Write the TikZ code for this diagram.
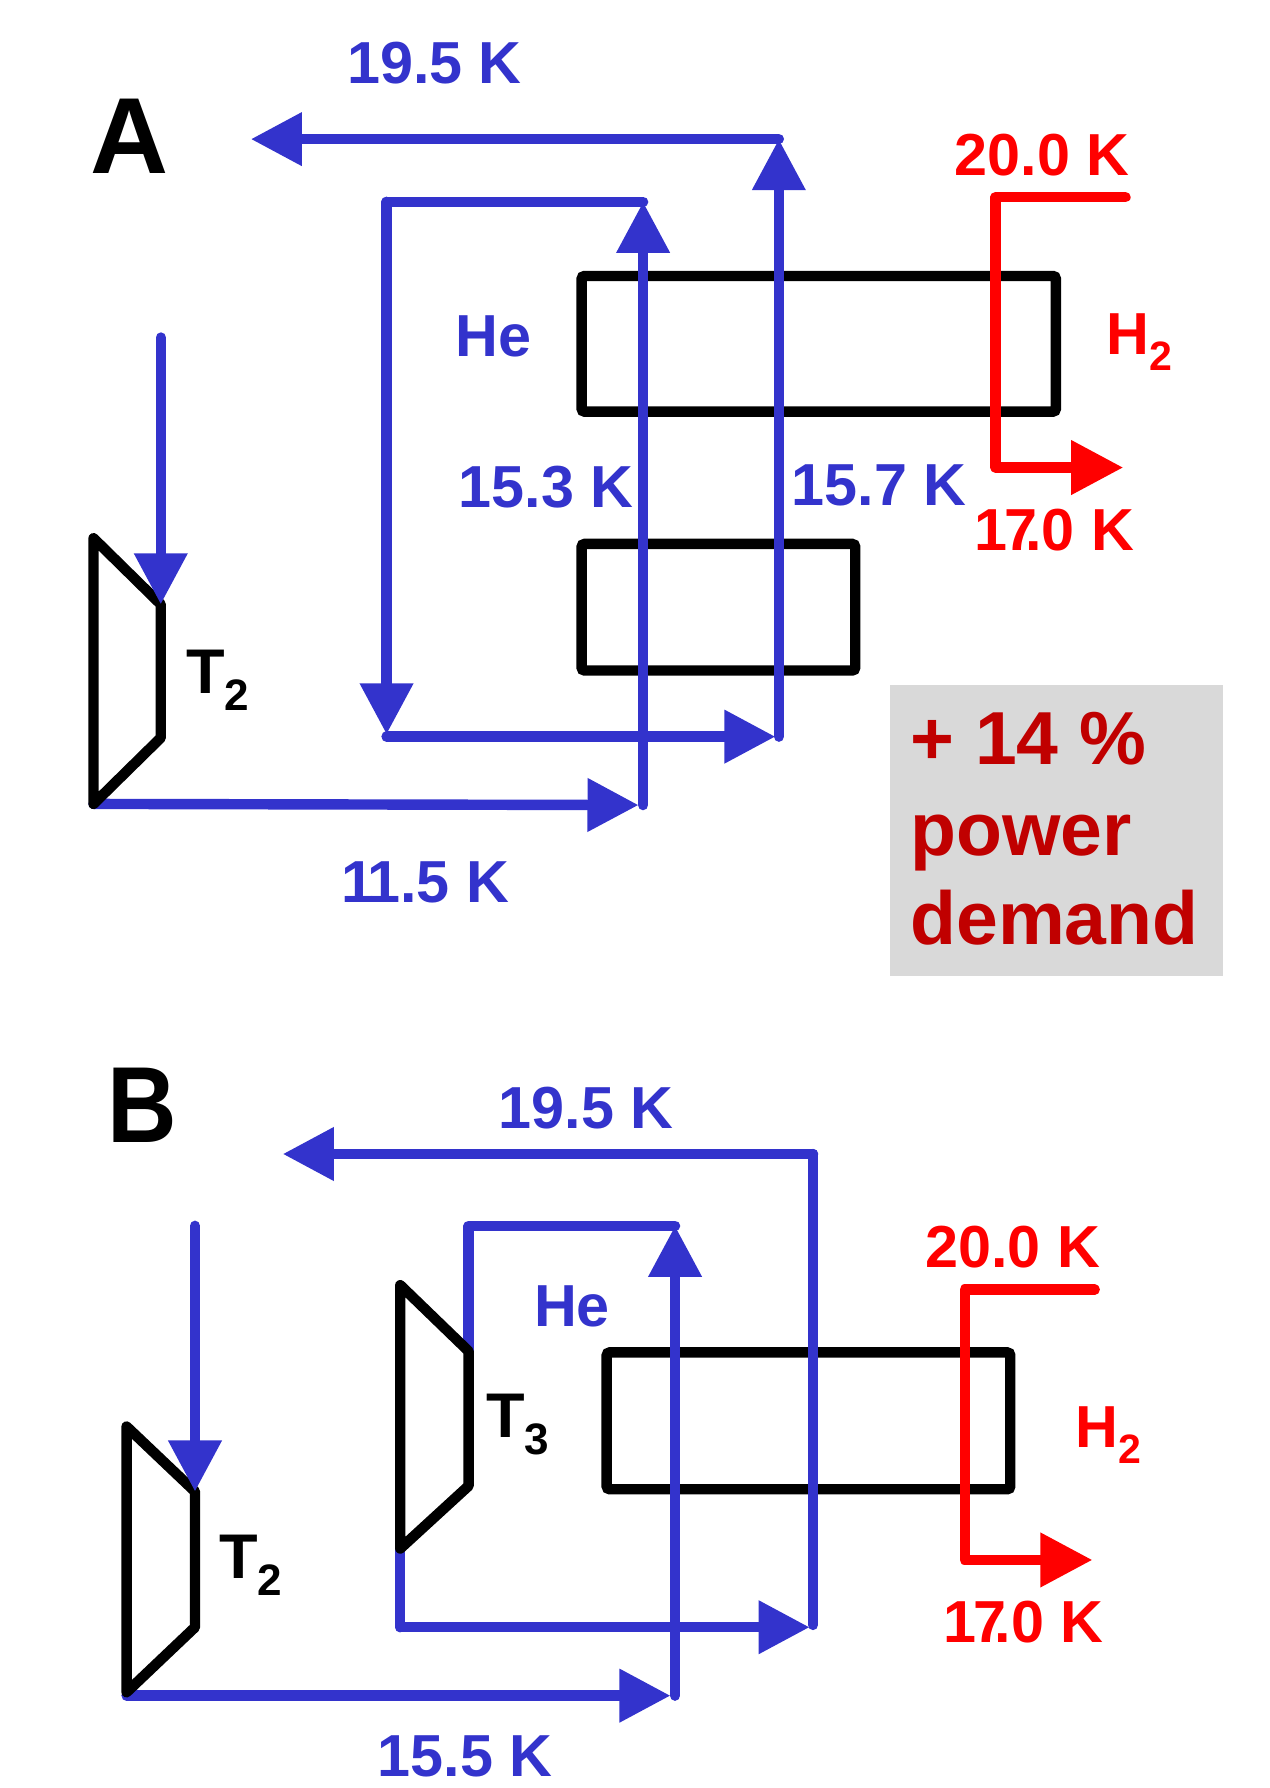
\documentclass[tikz,border=0pt]{standalone}
\usepackage{fontspec}
\setmainfont{Liberation Sans}
\usetikzlibrary{arrows.meta}
\definecolor{heblue}{RGB}{51,51,204}
\definecolor{hred}{RGB}{255,0,0}
\definecolor{demandred}{RGB}{192,0,0}
\definecolor{demandgray}{RGB}{217,217,217}
\newcommand{\lowsub}[1]{\raisebox{-8pt}{\fontsize{20.5}{20.5}\selectfont #1}}
\newcommand{\turbsub}[1]{\raisebox{-8.5pt}{\fontsize{22}{22}\selectfont #1}}

\begin{document}
\begin{tikzpicture}[
    x=0.02cm, y=-0.02cm,
    hx/.style={rectangle, rounded corners=1.5pt, draw=black, line width=5.2pt, inner sep=0pt},
    turbine/.style={draw=black, line width=5.2pt, line join=round, line cap=round},
    line/.style={draw=heblue, line width=5.2pt, line cap=round, line join=round},
    arrow/.style={line, -{Triangle[length=25.5pt,width=25.5pt]}},
    redline/.style={draw=hred, line width=5.2pt, line cap=round, line join=round},
    redarrow/.style={redline, -{Triangle[length=26pt,width=26pt]}},
    label/.style={anchor=base west, inner sep=0pt, yshift=0.3pt, font=\bfseries\fontsize{29.6}{29.6}\selectfont},
    helabel/.style={label, text=heblue},
    hlabel/.style={label, text=hred},
    tlabel/.style={label, text=black, font=\bfseries\fontsize{31.5}{31.5}\selectfont},
    panel/.style={anchor=base west, inner sep=0pt, font=\bfseries\fontsize{54}{54}\selectfont},
    demand/.style={anchor=base west, inner sep=0pt, text=demandred, font=\bfseries\fontsize{37.5}{37.5}\selectfont}
]
\useasboundingbox (0,0) rectangle (1113,1568);

% Panel A: exchangers
\node[hx, minimum width=8.32cm, minimum height=2.38cm] (hxa1) at (718,301.5) {};
\node[hx, minimum width=4.8cm, minimum height=2.22cm] (hxa2) at (630,532.5) {};
\node[rectangle, fill=demandgray, anchor=north west, inner sep=0pt,
      minimum width=5.84cm, minimum height=5.12cm] (demandbox) at (780,600) {};

% Panel A: points
\coordinate (ain) at (141,296);
\coordinate (ainend) at (141,530);
\coordinate (atl) at (82,472);
\coordinate (atm) at (141,530);
\coordinate (atb) at (141,647);
\coordinate (abl) at (82,705);
\coordinate (abr) at (564,706);
\coordinate (abrtip) at (560,706);
\coordinate (acold) at (564,177);
\coordinate (amid) at (339,177);
\coordinate (amidend) at (339,644);
\coordinate (alow) at (339,646);
\coordinate (alowtip) at (680,646);
\coordinate (aret) at (683,646);
\coordinate (atop) at (683,122);
\coordinate (aout) at (220,122);
\coordinate (ar1) at (987,173);
\coordinate (ar2) at (873,173);
\coordinate (ar3) at (873,410);
\coordinate (ar4) at (985,410);

% Panel A: helium loop
\draw[arrow] (abl) -- (abrtip);
\draw[arrow] (abr) -- (acold);
\draw[line] (acold) -- (amid);
\draw[arrow] (amid) -- (amidend);
\draw[arrow] (alow) -- (alowtip);
\draw[arrow] (aret) -- (atop);
\draw[arrow] (atop) -- (aout);
\draw[turbine] (atl) -- (atm) -- (atb) -- (abl) -- cycle;
\draw[arrow] (ain) -- (ainend);

% Panel A: hydrogen
\draw[redarrow] (ar1) -- (ar2) -- (ar3) -- (ar4);

% Panel A: labels
\node[panel] (lba) at (79,152) {A};
\node[helabel] (ta1) at (304,74) {19.5 K};
\node[hlabel] (ta2) at (837,154) {20.0 K};
\node[helabel] (ta3) at (399,313) {He};
\node[hlabel] (ta4) at (970,311) {H\lowsub{2}};
\node[helabel] (ta5) at (402,446) {15.3 K};
\node[helabel] (ta6) at (694,444) {15.7 K};
\node[hlabel] (ta7) at (854,483) {1\kern-0.05em 7\kern-0.2em .0 K};
\node[tlabel] (ta8) at (163,609) {T\turbsub{2}};
\node[helabel] (ta9) at (299,792) {1\kern-0.12em 1.5 K};
\node[demand] (d1) at (798,670) {+ 14 \%};
\node[demand] (d2) at (798,750) {power};
\node[demand] (d3) at (798,828) {demand};

% Panel B: exchanger
\node[hx, minimum width=7.08cm, minimum height=2.4cm] (hxb) at (709,1246) {};

% Panel B: points
\coordinate (bin) at (171,1075);
\coordinate (binend) at (171,1308);
\coordinate (btl) at (111,1251);
\coordinate (btm) at (171,1308);
\coordinate (btb) at (171,1427);
\coordinate (bbl) at (111,1484);
\coordinate (bbr) at (592,1487);
\coordinate (bbrtip) at (588,1487);
\coordinate (bcold) at (592,1075);
\coordinate (bmid) at (411,1075);
\coordinate (ctl) at (351,1127);
\coordinate (ctm) at (411,1185);
\coordinate (ctb) at (411,1303);
\coordinate (cbl) at (351,1358);
\coordinate (blow) at (351,1427);
\coordinate (blowtip) at (710,1427);
\coordinate (bret) at (713,1425);
\coordinate (btop) at (713,1012);
\coordinate (bout) at (248,1012);
\coordinate (bstart) at (111,1487);
\coordinate (br1) at (960,1131);
\coordinate (br2) at (846,1131);
\coordinate (br3) at (846,1368);
\coordinate (br4) at (958,1368);

% Panel B: helium loop
\draw[arrow] (bstart) -- (bbrtip);
\draw[arrow] (bbr) -- (bcold);
\draw[line] (bcold) -- (bmid) -- (ctm);
\draw[line] (cbl) -- (blow);
\draw[arrow] (blow) -- (blowtip);
\draw[line] (bret) -- (btop);
\draw[arrow] (btop) -- (bout);
\draw[turbine] (btl) -- (btm) -- (btb) -- (bbl) -- cycle;
\draw[turbine] (ctl) -- (ctm) -- (ctb) -- (cbl) -- cycle;
\draw[arrow] (bin) -- (binend);

% Panel B: hydrogen
\draw[redarrow] (br1) -- (br2) -- (br3) -- (br4);

% Panel B: labels
\node[panel, xscale=0.89] (lbb) at (94,1002) {B};
\node[helabel] (tb1) at (437,990) {19.5 K};
\node[hlabel] (tb2) at (811,1112) {20.0 K};
\node[helabel] (tb3) at (468,1164) {He};
\node[tlabel] (tb4) at (426,1261) {T\turbsub{3}};
\node[hlabel] (tb5) at (943,1270) {H\lowsub{2}};
\node[tlabel] (tb6) at (192,1385) {T\turbsub{2}};
\node[hlabel] (tb7) at (827,1441) {1\kern-0.05em 7\kern-0.2em .0 K};
\node[helabel] (tb8) at (331,1558) {15.5 K};

\end{tikzpicture}
\end{document}
